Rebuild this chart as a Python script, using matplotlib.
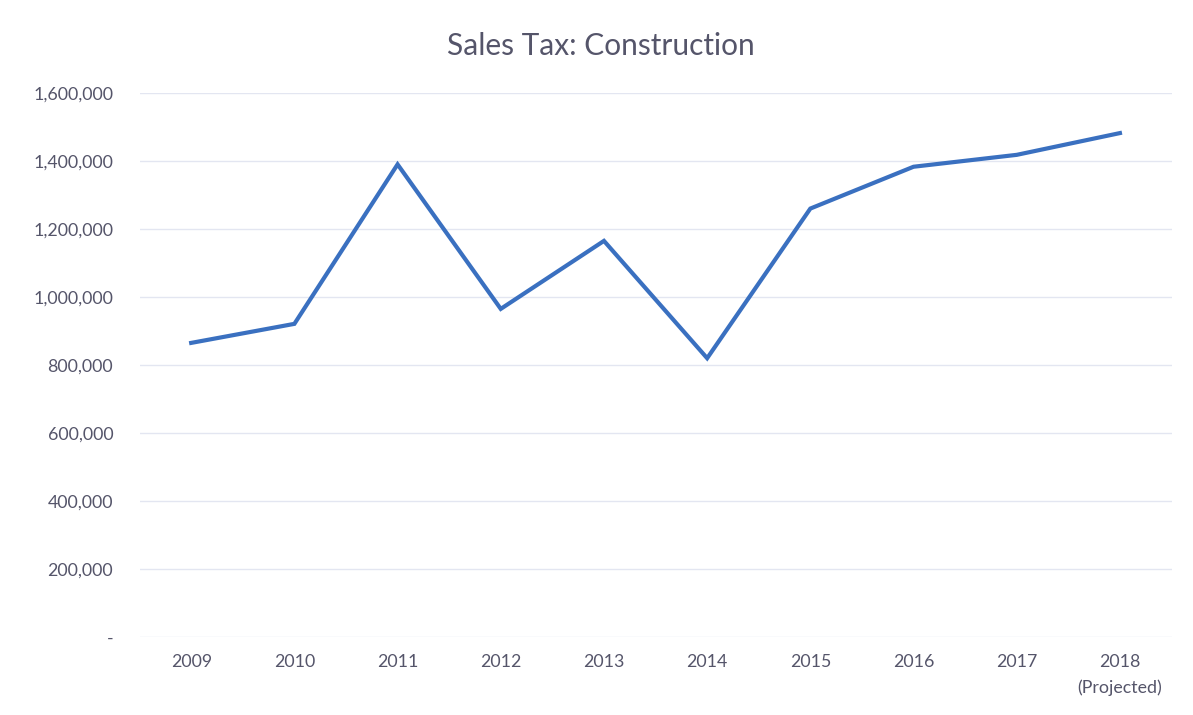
import matplotlib
matplotlib.use("Agg")
import matplotlib.pyplot as plt
from matplotlib.ticker import FuncFormatter

years = ["2009", "2010", "2011", "2012", "2013", "2014", "2015", "2016", "2017", "2018\n(Projected)"]
sales_tax = [865000, 921000, 1390000, 965000, 1165000, 820000, 1260000, 1383000, 1418000, 1482000]
y_ticks = [0, 200000, 400000, 600000, 800000, 1000000, 1200000, 1400000, 1600000]
title = "Sales Tax: Construction"

plt.rcParams['font.family'] = ['Lato', 'DejaVu Sans']

fig = plt.figure(figsize=(11.93, 7.15), dpi=100)
ax = fig.add_axes([0.117, 0.109, 0.865, 0.761])

x = list(range(len(years)))
ax.plot(x, sales_tax, color="#3a70c0", linewidth=3.0, solid_joinstyle="miter", zorder=3)

ax.set_xlim(-0.5, len(years) - 0.5)
ax.set_ylim(0, 1600000)
ax.set_yticks(y_ticks)
ax.yaxis.set_major_formatter(FuncFormatter(lambda v, p: "-" if v == 0 else f"{int(v):,}"))
ax.set_xticks(x)
ax.set_xticklabels(years, ha="center", multialignment="center", linespacing=1.75)

ax.grid(axis="y", color="#e3e6f1", linewidth=1.0)
ax.set_axisbelow(True)
for s in ax.spines.values():
    s.set_visible(False)
ax.tick_params(axis="both", length=0, labelsize=12.8, colors="#55556a")
ax.tick_params(axis="y", pad=19)
ax.tick_params(axis="x", pad=12)

fig.text(0.504, 0.935, title, ha="center", va="center", fontsize=21.5, color="#55556a")

fig.savefig("out.png", dpi=100)
